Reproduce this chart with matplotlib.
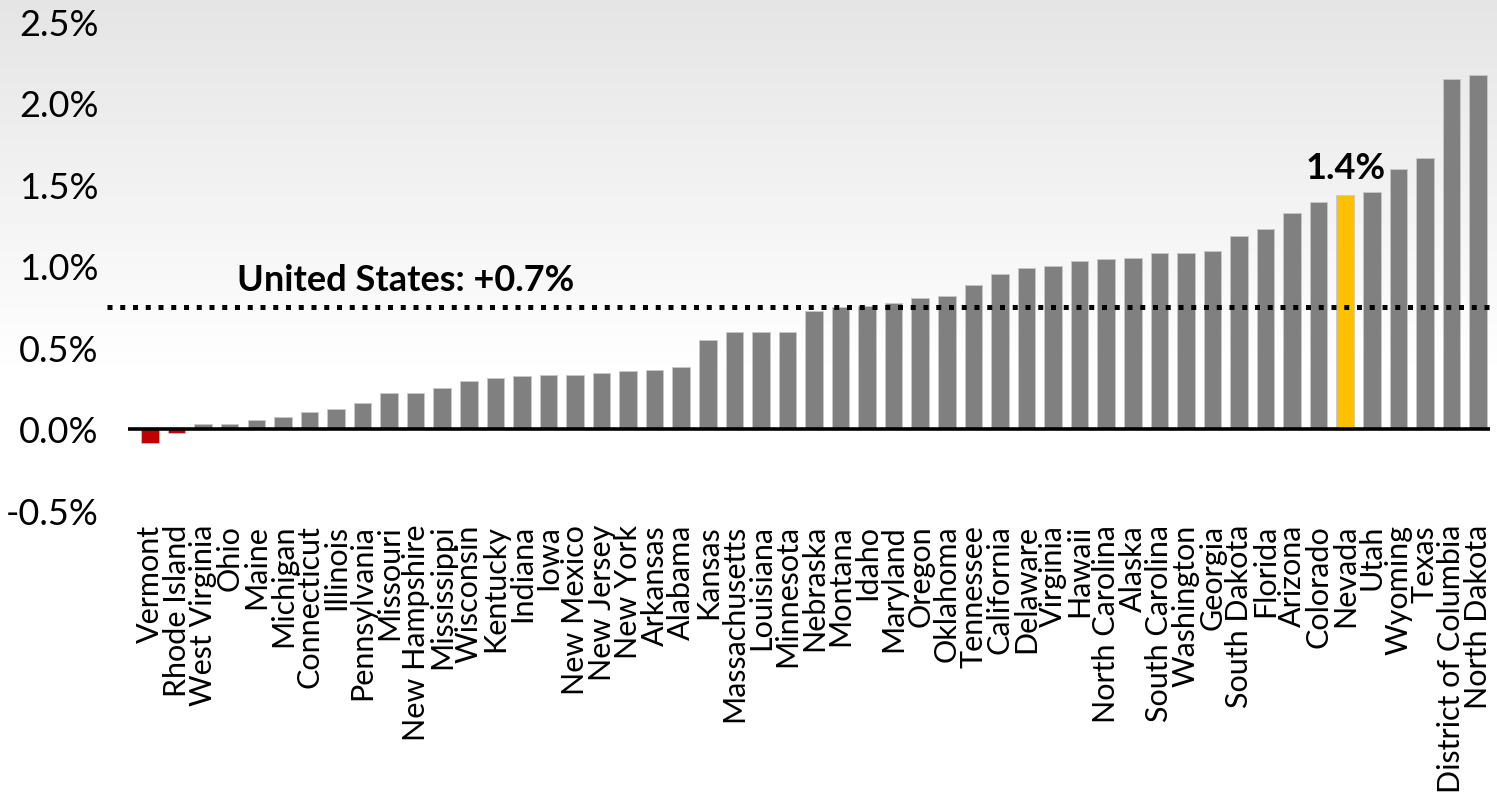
import numpy as np
import matplotlib.pyplot as plt

# annual growth by state, sorted ascending (percent)
states = ["Vermont", "Rhode Island", "West Virginia", "Ohio", "Maine", "Michigan",
          "Connecticut", "Illinois", "Pennsylvania", "Missouri", "New Hampshire",
          "Mississippi", "Wisconsin", "Kentucky", "Indiana", "Iowa", "New Mexico",
          "New Jersey", "New York", "Arkansas", "Alabama", "Kansas", "Massachusetts",
          "Louisiana", "Minnesota", "Nebraska", "Montana", "Idaho", "Maryland",
          "Oregon", "Oklahoma", "Tennessee", "California", "Delaware", "Virginia",
          "Hawaii", "North Carolina", "Alaska", "South Carolina", "Washington",
          "Georgia", "South Dakota", "Florida", "Arizona", "Colorado", "Nevada",
          "Utah", "Wyoming", "Texas", "District of Columbia", "North Dakota"]
growth = [-0.09, -0.03, 0.03, 0.03, 0.05, 0.07, 0.10, 0.12, 0.155, 0.215, 0.22,
          0.25, 0.29, 0.31, 0.32, 0.33, 0.33, 0.34, 0.35, 0.36, 0.38, 0.54, 0.59,
          0.59, 0.59, 0.72, 0.745, 0.75, 0.77, 0.80, 0.81, 0.88, 0.947, 0.985, 1.00,
          1.03, 1.04, 1.045, 1.075, 1.078, 1.09, 1.18, 1.227, 1.325, 1.39, 1.43,
          1.45, 1.59, 1.66, 2.145, 2.17]
us_avg = 0.745
us_label = "United States: +0.7%"
highlight = "Nevada"
highlight_label = "1.4%"

plt.rcParams['font.family'] = ['Lato', 'DejaVu Sans']

fig = plt.figure(figsize=(14.97, 8.03), dpi=100)

# soft grey-to-white background
bg = fig.add_axes([0, 0, 1, 1], zorder=0)
rows = np.arange(803)
shade = np.clip(0.895 + 0.105 * rows / 380, 0, 1)
bg.imshow(shade[:, None], cmap='gray', vmin=0, vmax=1, aspect='auto',
          extent=[0, 1, 0, 1])
bg.axis('off')

ax = fig.add_axes([0.0855, 0.3636, 0.9098, 0.609], zorder=1)
ax.patch.set_alpha(0)

x = np.arange(len(states))
colors = []
for s, v in zip(states, growth):
    if s == highlight:
        colors.append('#ffc000')
    elif v < 0:
        colors.append('#c00000')
    else:
        colors.append('#808080')
ax.bar(x, growth, width=0.66, color=colors, edgecolor='#c8c8c8', linewidth=0.6, zorder=2)

ax.axhline(0, color='black', lw=2.6, zorder=3)
ax.axhline(us_avg, xmin=-0.0155, xmax=1.0, color='black', lw=3.6,
           linestyle=(0, (1.0, 1.55)), dash_capstyle='butt', clip_on=False, zorder=4)
ax.annotate(us_label, xy=(3.28, us_avg), xytext=(0, 8), textcoords='offset points',
            ha='left', va='bottom', fontsize=26, fontweight='bold')

hi = states.index(highlight)
ax.annotate(highlight_label, xy=(hi, growth[hi]), xytext=(0, 8), textcoords='offset points',
            ha='center', va='bottom', fontsize=26, fontweight='bold')

ax.set_xlim(-0.83, 50.45)
ax.set_ylim(-0.5, 2.5)
yt = np.arange(-0.5, 2.51, 0.5)
ax.set_yticks(yt, [f"{v:.1f}%" for v in yt], fontsize=26)
ax.set_xticks(x, states, rotation=90, fontsize=22)
ax.tick_params(axis='y', length=0, pad=21)
ax.tick_params(axis='x', length=0, pad=10)
for sp in ax.spines.values():
    sp.set_visible(False)

fig.savefig('out.png', dpi=100)
